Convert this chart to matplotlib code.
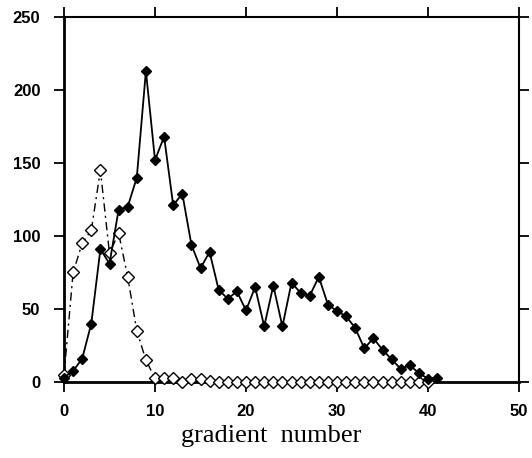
import numpy as np
import matplotlib
matplotlib.use("Agg")
import matplotlib.pyplot as plt

# gradient numbers
grad = list(range(0, 42))
# filled diamonds, solid line
filled = [3, 7.5, 16, 40, 91, 81, 118, 120, 140, 213,
          152, 168, 121, 129, 94, 78, 89, 63, 57, 62,
          49, 65, 38, 66, 38, 68, 61, 59, 72, 53,
          48.5, 45, 37, 23, 30, 22, 15.5, 9, 11.5, 6,
          2.3, 2.7]
# open diamonds, dash-dot line
grad_open = list(range(0, 41))
opened = [4.5, 75, 95, 104, 145, 88, 102, 72, 35, 15,
          2.5, 2.5, 2.5, 0, 2, 2, 1, 0, 0, 0,
          0, 0, 0, 0, 0, 0, 0, 0, 0, 0,
          0, 0, 0, 0, 0, 0, 0, 0, 0, 0,
          0]

xticks = [0, 10, 20, 30, 40, 50]
yticks = [0, 50, 100, 150, 200, 250]

fig = plt.figure(figsize=(5.32, 4.58), dpi=100)
ax = fig.add_axes([0.1203, 0.166, 0.8553, 0.797])

ax.plot(grad_open, opened, color='black', linestyle=(0, (6, 3, 1.5, 3)), linewidth=1.0,
        marker='D', markersize=6, markerfacecolor='white',
        markeredgecolor='black', markeredgewidth=1.0, clip_on=False, zorder=3)
ax.plot(grad, filled, color='black', linestyle='-', linewidth=1.3,
        marker='D', markersize=5.5, markerfacecolor='black',
        markeredgecolor='black', clip_on=False, zorder=4)

ax.set_xlim(0, 50)
ax.set_ylim(0, 250)
ax.set_xticks(xticks)
ax.set_yticks(yticks)
ax.tick_params(direction='out', length=7, width=1.3, top=True, right=True,
               labeltop=False, labelright=False)
ax.tick_params(axis='x', pad=9)
ax.tick_params(axis='y', pad=10)
for lab in ax.get_xticklabels() + ax.get_yticklabels():
    lab.set_fontfamily('Liberation Sans')
    lab.set_fontweight('bold')
    lab.set_fontsize(12)

for side in ['left', 'bottom']:
    ax.spines[side].set_linewidth(2.0)
for side in ['top', 'right']:
    ax.spines[side].set_linewidth(1.5)

ax.set_xlabel('gradient  number', fontfamily='Liberation Serif', fontsize=19)
ax.xaxis.set_label_coords(0.455, -0.118)

fig.savefig('out.png', dpi=100)
